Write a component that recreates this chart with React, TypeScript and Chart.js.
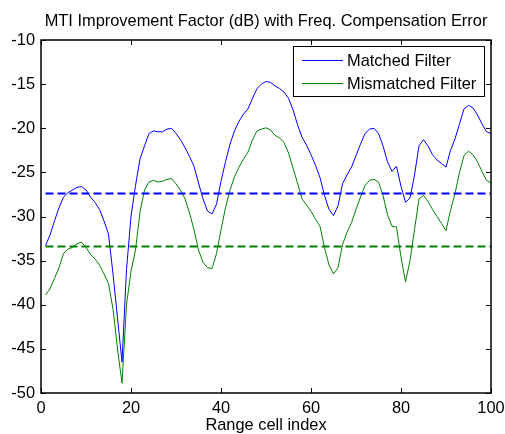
import React, { useEffect, useRef } from "react";
import { Chart, registerables } from "chart.js";

Chart.register(...registerables);

const titleText = "MTI Improvement Factor (dB) with Freq. Compensation Error";
const xLabel = "Range cell index";
const seriesNames = ["Matched Filter", "Mismatched Filter"];

const rangeCells = Array.from({ length: 100 }, (_, i) => i + 1);

const matched = [
  -33.3, -32.1, -30.5, -29.0, -27.8, -27.3, -27.0, -26.7, -26.6, -27.0,
  -27.8, -28.4, -29.2, -30.5, -32.0, -36.5, -41.5, -46.5, -36.0, -30.0,
  -26.5, -23.5, -22.0, -20.6, -20.3, -20.4, -20.4, -20.1, -20.0, -20.6,
  -21.3, -22.2, -23.2, -24.3, -26.2, -28.0, -29.4, -29.7, -28.6, -26.0,
  -23.8, -21.8, -20.3, -19.2, -18.4, -17.8, -16.6, -15.5, -15.0, -14.7,
  -14.8, -15.2, -15.5, -15.9, -16.6, -17.9, -19.6, -21.0, -21.9, -23.0,
  -24.2, -25.6, -27.6, -29.2, -29.9, -28.8, -26.3, -25.3, -24.4, -23.1,
  -21.8, -20.6, -20.1, -20.0, -20.6, -22.0, -23.8, -24.9, -24.3, -26.6,
  -28.4, -27.9, -25.3, -22.0, -21.3, -22.0, -23.0, -23.6, -24.0, -24.4,
  -22.5, -21.2, -19.5, -17.8, -17.4, -17.7, -18.5, -19.5, -20.4, -20.6,
];

const mismatched = [
  -38.9, -38.2, -37.0, -35.8, -34.2, -33.7, -33.5, -33.1, -32.9, -33.5,
  -34.3, -34.8, -35.5, -36.5, -37.6, -40.5, -45.0, -48.9, -40.0, -36.2,
  -33.8, -29.5, -27.0, -26.1, -25.9, -26.1, -26.0, -25.8, -25.7, -26.3,
  -27.0, -28.0, -29.6, -31.5, -33.8, -35.2, -35.8, -35.9, -34.2, -31.5,
  -29.0, -27.0, -25.5, -24.4, -23.5, -22.7, -21.3, -20.3, -20.1, -19.95,
  -20.2, -20.8, -21.1, -21.6, -22.8, -24.5, -26.2, -28.0, -28.7, -29.4,
  -30.3, -31.1, -33.5, -35.5, -36.5, -35.8, -33.2, -31.8, -30.7, -29.2,
  -27.8, -26.5, -25.9, -25.8, -26.1, -27.6, -29.8, -31.1, -31.2, -34.6,
  -37.4, -35.0, -31.5, -28.0, -27.6, -28.3, -29.2, -30.0, -30.8, -31.6,
  -29.3, -27.4, -25.0, -23.1, -22.6, -23.0, -23.8, -24.9, -25.9, -26.2,
];

const matchedMean = -27.4;
const mismatchedMean = -33.4;

const xTicks = [0, 20, 40, 60, 80, 100];
const yTicks = [-50, -45, -40, -35, -30, -25, -20, -15, -10];

const FONT = "'Liberation Sans', Arial, sans-serif";
const FS = 16.4;
const BLUE = "rgb(0,0,255)";
const GREEN = "rgb(0,128,0)";

const decorPlugin = {
  id: "decor",
  afterDraw(chart: any) {
    const { ctx, chartArea } = chart;
    const { left, right, top, bottom } = chartArea;
    const xs = chart.scales.x;
    const ys = chart.scales.y;
    ctx.save();
    ctx.strokeStyle = "#000";
    ctx.lineWidth = 1.5;
    ctx.strokeRect(left, top, right - left, bottom - top);
    ctx.lineWidth = 1;
    const tl = 5;
    ctx.beginPath();
    xTicks.forEach((v) => {
      const px = Math.round(xs.getPixelForValue(v)) + 0.5;
      ctx.moveTo(px, bottom);
      ctx.lineTo(px, bottom - tl);
      ctx.moveTo(px, top);
      ctx.lineTo(px, top + tl);
    });
    yTicks.forEach((v) => {
      const py = Math.round(ys.getPixelForValue(v)) + 0.5;
      ctx.moveTo(left, py);
      ctx.lineTo(left + tl, py);
      ctx.moveTo(right, py);
      ctx.lineTo(right - tl, py);
    });
    ctx.stroke();

    ctx.fillStyle = "#000";
    ctx.font = `${FS}px ${FONT}`;
    ctx.textAlign = "center";
    ctx.textBaseline = "middle";
    ctx.fillText(titleText, (left + right) / 2, 21);
    ctx.fillText(xLabel, (left + right) / 2, 425);

    const lx = 293, ly = 46, lw = 191, lh = 50;
    ctx.fillStyle = "#fff";
    ctx.fillRect(lx, ly, lw, lh);
    ctx.strokeStyle = "#000";
    ctx.lineWidth = 1;
    ctx.strokeRect(lx + 0.5, ly + 0.5, lw, lh);
    const rows = [
      { label: chart.data.datasets[0].label, color: chart.data.datasets[0].borderColor, y: 60 },
      { label: chart.data.datasets[1].label, color: chart.data.datasets[1].borderColor, y: 83 },
    ];
    rows.forEach((r) => {
      ctx.strokeStyle = r.color;
      ctx.lineWidth = 1;
      ctx.beginPath();
      ctx.moveTo(302, r.y + 0.5);
      ctx.lineTo(343, r.y + 0.5);
      ctx.stroke();
      ctx.fillStyle = "#000";
      ctx.textAlign = "left";
      ctx.textBaseline = "middle";
      ctx.fillText(r.label, 347, r.y + 1);
    });
    ctx.restore();
  },
};

export default function App() {
  const ref = useRef<HTMLCanvasElement | null>(null);
  useEffect(() => {
    document.body.style.margin = "0";
    const canvas = ref.current!;
    const toPts = (ys: number[]) => ys.map((y, i) => ({ x: rangeCells[i], y }));
    const chart = new Chart(canvas, {
      type: "scatter",
      data: {
        datasets: [
          {
            label: seriesNames[0],
            data: toPts(matched),
            showLine: true,
            borderColor: BLUE,
            borderWidth: 1,
            pointRadius: 0,
            tension: 0,
            order: 2,
          },
          {
            label: seriesNames[1],
            data: toPts(mismatched),
            showLine: true,
            borderColor: GREEN,
            borderWidth: 1,
            pointRadius: 0,
            tension: 0,
            order: 3,
          },
          {
            label: "Matched mean",
            data: [
              { x: rangeCells[0], y: matchedMean },
              { x: rangeCells[rangeCells.length - 1], y: matchedMean },
            ],
            showLine: true,
            borderColor: BLUE,
            borderWidth: 2,
            borderDash: [8, 4],
            pointRadius: 0,
            order: 0,
          },
          {
            label: "Mismatched mean",
            data: [
              { x: rangeCells[0], y: mismatchedMean },
              { x: rangeCells[rangeCells.length - 1], y: mismatchedMean },
            ],
            showLine: true,
            borderColor: GREEN,
            borderWidth: 2,
            borderDash: [8, 4],
            pointRadius: 0,
            order: 1,
          },
        ],
      },
      options: {
        responsive: false,
        animation: false,
        layout: { padding: { top: 40, left: 0, right: 14, bottom: 0 } },
        plugins: {
          legend: { display: false },
          title: { display: false },
          tooltip: { enabled: false },
        },
        scales: {
          x: {
            type: "linear",
            min: 0,
            max: 100,
            afterFit: (s: any) => {
              s.height = 41;
              s.paddingRight = 0;
              s.paddingLeft = 0;
            },
            afterBuildTicks: (s: any) => {
              s.ticks = xTicks.map((v) => ({ value: v }));
            },
            grid: { display: false, drawTicks: false },
            border: { display: false },
            ticks: {
              padding: 6,
              color: "#000",
              font: { family: FONT, size: FS },
              maxRotation: 0,
            },
          },
          y: {
            type: "linear",
            min: -50,
            max: -10,
            afterFit: (s: any) => {
              s.width = 41;
              s.paddingTop = 0;
              s.paddingBottom = 0;
            },
            afterBuildTicks: (s: any) => {
              s.ticks = yTicks.map((v) => ({ value: v }));
            },
            grid: { display: false, drawTicks: false },
            border: { display: false },
            ticks: {
              padding: 6,
              color: "#000",
              font: { family: FONT, size: FS },
            },
          },
        },
      },
      plugins: [decorPlugin],
    });
    return () => chart.destroy();
  }, []);
  return (
    <div style={{ width: 505, height: 434, background: "#fff" }}>
      <canvas ref={ref} width={505} height={434} style={{ display: "block" }} />
    </div>
  );
}
